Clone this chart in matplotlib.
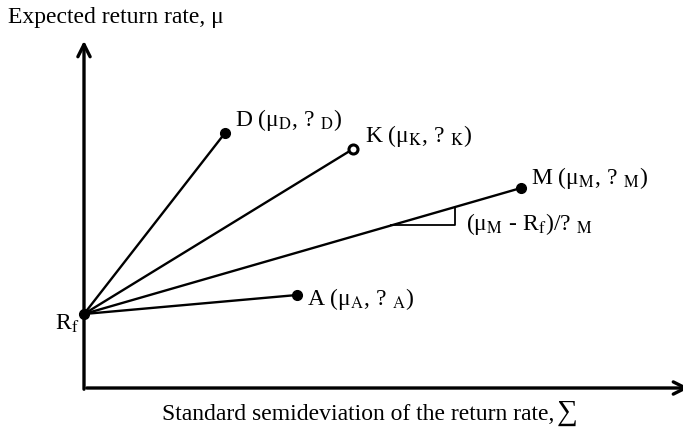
import matplotlib.pyplot as plt

plt.rcParams['font.family'] = ['Liberation Serif', 'DejaVu Serif']
plt.rcParams['mathtext.fontset'] = 'stix'

# risk-free rate and portfolios (semideviation, expected return)
rf = 0.74
names = ['D', 'K', 'M', 'A']
sigma = [1.41, 2.69, 4.37, 2.13]
mu = [2.55, 2.39, 2.00, 0.93]
labels = ['D (μ$_{\\rm D}$, ? $_{\\rm D}$)',
          'K (μ$_{\\rm K}$, ? $_{\\rm K}$)',
          'M (μ$_{\\rm M}$, ? $_{\\rm M}$)',
          'A (μ$_{\\rm A}$, ? $_{\\rm A}$)']
label_offsets = [(0.10, 0.13), (0.12, 0.13), (0.10, 0.10), (0.10, -0.04)]

fig = plt.figure(figsize=(6.83, 4.30), dpi=100)
ax = fig.add_axes([84 / 683, 42 / 430, 599 / 683, 350 / 430])
ax.set_xlim(0, 5.99)
ax.set_ylim(0, 3.5)
ax.axis('off')

# axes with arrow heads
arrow = dict(arrowstyle='->', lw=2.4, color='black', mutation_scale=22)
ax.annotate('', xy=(0, 3.5), xytext=(0, -0.04), arrowprops=arrow, annotation_clip=False)
ax.annotate('', xy=(6.08, 0), xytext=(0, 0), arrowprops=arrow, annotation_clip=False)

# lines from Rf to each portfolio
for n, s, m, lab, off in zip(names, sigma, mu, labels, label_offsets):
    ax.plot([0, s], [rf, m], color='black', lw=1.7, clip_on=False)
    if n == 'K':
        ax.plot(s, m, 'o', ms=6.5, mfc='white', mec='black', mew=2.2, clip_on=False)
    else:
        ax.plot(s, m, 'o', ms=7, color='black', clip_on=False)
    ax.text(s + off[0], m + off[1], lab, fontsize=17, va='center', ha='left')

ax.plot(0, rf, 'o', ms=7, color='black', clip_on=False)
ax.text(-0.29, rf - 0.1, 'R$_{\\rm f}$', fontsize=17, va='center', ha='left')

# slope triangle on the Rf-M line
sM, mM = sigma[2], mu[2]
slope = (mM - rf) / sM
x1, x2 = 3.07, 3.71
y1, y2 = rf + slope * x1, rf + slope * x2
ax.plot([x1, x2, x2], [y1, y1, y2], color='black', lw=1.3)
ax.text(x2 + 0.11, (y1 + y2) / 2 - 0.08, '(μ$_{\\rm M}$ - R$_{\\rm f}$)/? $_{\\rm M}$',
        fontsize=17, va='center', ha='left')

# axis titles
fig.text(8 / 683, 1 - 17 / 430, 'Expected return rate, μ', fontsize=17, va='center', ha='left')
fig.text(162 / 683, 1 - 414 / 430, 'Standard semideviation of the return rate,',
         fontsize=17, va='center', ha='left')
fig.text(557 / 683, 1 - 413 / 430, '∑', fontsize=21, va='center', ha='left')

fig.savefig('out.png', dpi=100)
